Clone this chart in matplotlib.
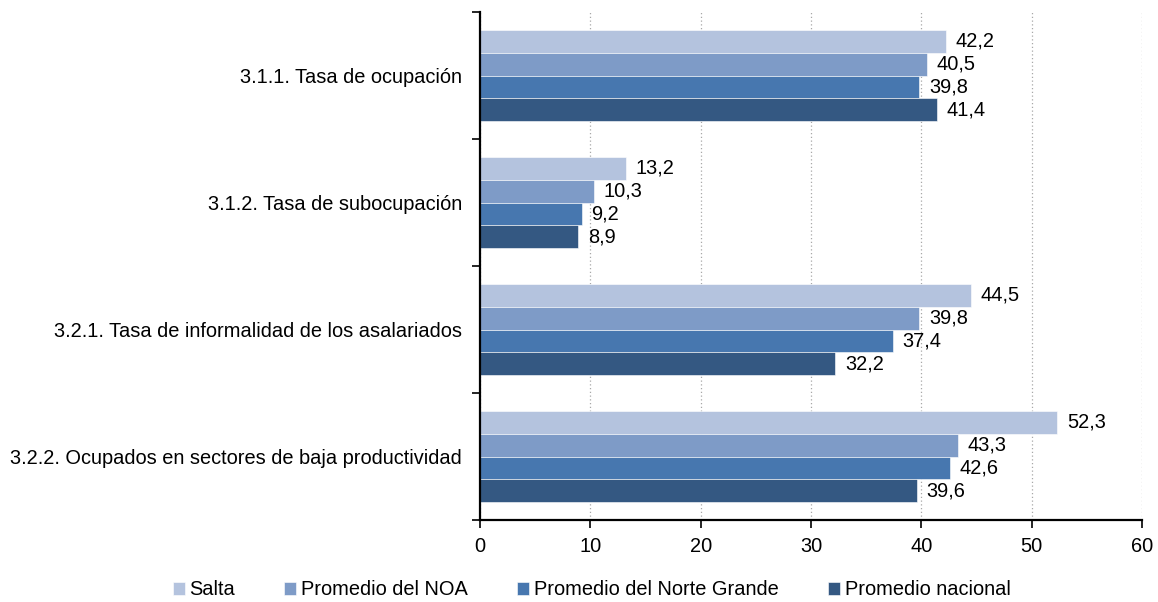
import numpy as np
import matplotlib
matplotlib.use('Agg')
import matplotlib.pyplot as plt
from matplotlib.ticker import FixedLocator

plt.rcParams['font.family'] = ['Liberation Sans', 'DejaVu Sans']

# Indicadores de empleo (%)
categorias = [
    '3.1.1. Tasa de ocupación',
    '3.1.2. Tasa de subocupación',
    '3.2.1. Tasa de informalidad de los asalariados',
    '3.2.2. Ocupados en sectores de baja productividad',
]
series = ['Salta', 'Promedio del NOA', 'Promedio del Norte Grande', 'Promedio nacional']
salta = [42.2, 13.2, 44.5, 52.3]
noa = [40.5, 10.3, 39.8, 43.3]
norte_grande = [39.8, 9.2, 37.4, 42.6]
nacional = [41.4, 8.9, 32.2, 39.6]
colores = ['#B4C3DE', '#7E9BC7', '#4777AF', '#345882']

valores = [salta, noa, norte_grande, nacional]
fs = 14.4

fig = plt.figure(figsize=(11.58, 6.02), dpi=100)
ax = fig.add_axes([0.4145, 0.136, 0.5717, 0.844])

y = np.arange(len(categorias))
h = 0.18
for i, (nombre, vals, col) in enumerate(zip(series, valores, colores)):
    pos = y - 1.5 * h + i * h
    bars = ax.barh(pos, vals, height=h, color=col, edgecolor='white',
                   linewidth=0.4, label=nombre, zorder=3)
    for b, v in zip(bars, vals):
        ax.annotate(f'{v:.1f}'.replace('.', ','),
                    (b.get_width(), b.get_y() + b.get_height() / 2),
                    xytext=(7, 0), textcoords='offset points',
                    va='center', ha='left', fontsize=fs)

ax.set_xlim(0, 60)
ax.set_ylim(len(categorias) - 0.5, -0.5)
ax.set_xticks(range(0, 61, 10))
ax.set_yticks(y)
ax.set_yticklabels(categorias)
ax.yaxis.set_minor_locator(FixedLocator(np.arange(-0.5, len(categorias), 1)))
ax.tick_params(axis='y', which='major', length=0, pad=13, labelsize=fs)
ax.tick_params(axis='y', which='minor', length=6, width=1.2, direction='out')
ax.tick_params(axis='x', length=6, width=1.2, direction='out', labelsize=fs, pad=6)

ax.grid(axis='x', color='#A8A8A8', linestyle=(0, (1, 2)), linewidth=0.9, zorder=0)
for s in ['top', 'right']:
    ax.spines[s].set_visible(False)
for s in ['left', 'bottom']:
    ax.spines[s].set_linewidth(1.6)
    ax.spines[s].set_zorder(4)

handles, labels = ax.get_legend_handles_labels()
fig.legend(handles, labels, loc='center', bbox_to_anchor=(0.511, 0.02), ncol=4,
           frameon=False, fontsize=fs, handlelength=0.6, handleheight=0.6,
           handletextpad=0.25, columnspacing=2.45, borderpad=0)

fig.savefig('out.png', dpi=100)
